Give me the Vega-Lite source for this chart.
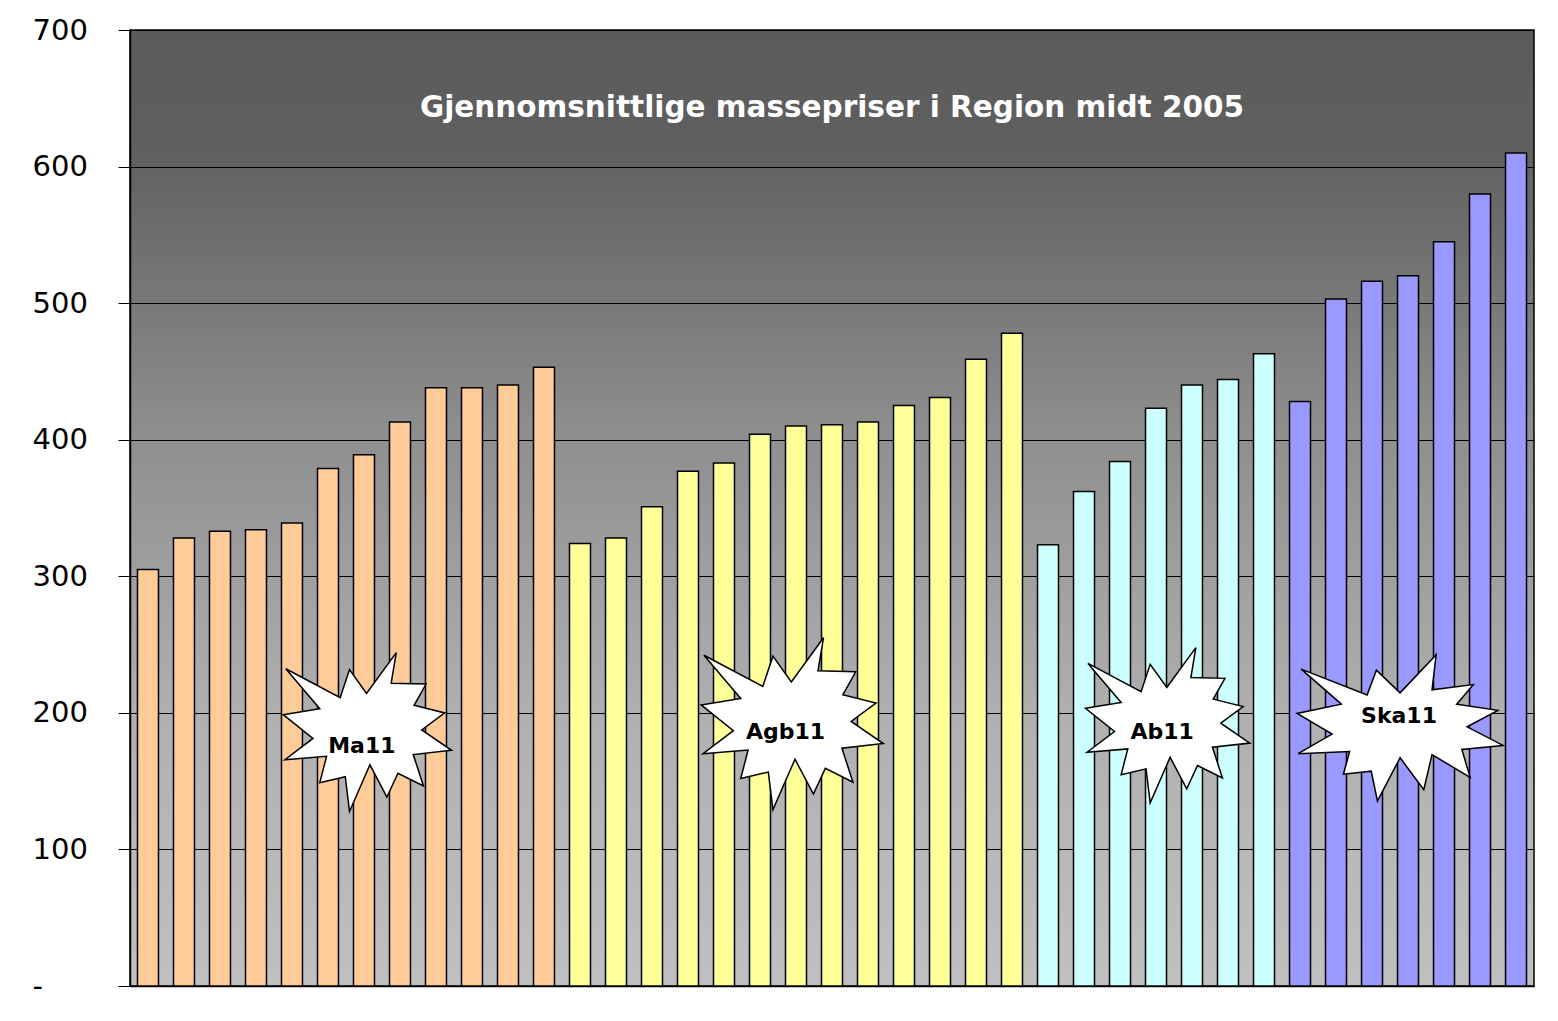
{
  "$schema": "https://vega.github.io/schema/vega-lite/v6.json",
  "width": 1404,
  "height": 956,
  "autosize": {"type": "none"},
  "padding": {"left": 130, "top": 30, "right": 24, "bottom": 35},
  "background": "white",
  "config": {
    "font": "DejaVu Sans",
    "view": {
      "stroke": "black",
      "strokeWidth": 1.5,
      "fill": {
        "gradient": "linear", "x1": 0, "y1": 0, "x2": 0, "y2": 1,
        "stops": [
          {"offset": 0, "color": "#5b5b5b"},
          {"offset": 0.12, "color": "#5f5f5f"},
          {"offset": 0.42, "color": "#8e8e8e"},
          {"offset": 0.72, "color": "#b0b0b0"},
          {"offset": 1, "color": "#c0c0c0"}
        ]
      }
    }
  },
  "datasets": {
    "bars": [
      {"i": 1, "group": "Ma11", "price": 305},
      {"i": 2, "group": "Ma11", "price": 328},
      {"i": 3, "group": "Ma11", "price": 333},
      {"i": 4, "group": "Ma11", "price": 334},
      {"i": 5, "group": "Ma11", "price": 339},
      {"i": 6, "group": "Ma11", "price": 379},
      {"i": 7, "group": "Ma11", "price": 389},
      {"i": 8, "group": "Ma11", "price": 413},
      {"i": 9, "group": "Ma11", "price": 438},
      {"i": 10, "group": "Ma11", "price": 438},
      {"i": 11, "group": "Ma11", "price": 440},
      {"i": 12, "group": "Ma11", "price": 453},
      {"i": 13, "group": "Agb11", "price": 324},
      {"i": 14, "group": "Agb11", "price": 328},
      {"i": 15, "group": "Agb11", "price": 351},
      {"i": 16, "group": "Agb11", "price": 377},
      {"i": 17, "group": "Agb11", "price": 383},
      {"i": 18, "group": "Agb11", "price": 404},
      {"i": 19, "group": "Agb11", "price": 410},
      {"i": 20, "group": "Agb11", "price": 411},
      {"i": 21, "group": "Agb11", "price": 413},
      {"i": 22, "group": "Agb11", "price": 425},
      {"i": 23, "group": "Agb11", "price": 431},
      {"i": 24, "group": "Agb11", "price": 459},
      {"i": 25, "group": "Agb11", "price": 478},
      {"i": 26, "group": "Ab11", "price": 323},
      {"i": 27, "group": "Ab11", "price": 362},
      {"i": 28, "group": "Ab11", "price": 384},
      {"i": 29, "group": "Ab11", "price": 423},
      {"i": 30, "group": "Ab11", "price": 440},
      {"i": 31, "group": "Ab11", "price": 444},
      {"i": 32, "group": "Ab11", "price": 463},
      {"i": 33, "group": "Ska11", "price": 428},
      {"i": 34, "group": "Ska11", "price": 503},
      {"i": 35, "group": "Ska11", "price": 516},
      {"i": 36, "group": "Ska11", "price": 520},
      {"i": 37, "group": "Ska11", "price": 545},
      {"i": 38, "group": "Ska11", "price": 580},
      {"i": 39, "group": "Ska11", "price": 610}
    ],
    "stars": [
      {"label": "Ma11", "sx": 6.57, "sy": 185, "tx": 6.44, "ty": 176},
      {"label": "Agb11", "sx": 18.37, "sy": 191, "tx": 18.21, "ty": 186},
      {"label": "Ab11", "sx": 28.8, "sy": 190, "tx": 28.67, "ty": 186},
      {"label": "Ska11", "sx": 35.28, "sy": 189, "tx": 35.25, "ty": 198}
    ]
  },
  "layer": [
    {
      "data": {"name": "bars"},
      "mark": {"type": "bar", "stroke": "black", "strokeWidth": 1.5},
      "encoding": {
        "x": {
          "field": "i", "type": "ordinal", "sort": null,
          "scale": {"paddingInner": 0.417, "paddingOuter": 0.208},
          "axis": {"labels": false, "ticks": false, "title": null, "domainColor": "black", "domainWidth": 1.5}
        },
        "y": {
          "field": "price", "type": "quantitative",
          "scale": {"domain": [0, 700], "nice": false},
          "axis": {
            "values": [0, 100, 200, 300, 400, 500, 600, 700],
            "title": null,
            "grid": true, "gridColor": "black", "gridWidth": 1, "gridOpacity": 1,
            "domainColor": "black", "domainWidth": 1.5,
            "tickColor": "black", "tickSize": 12, "tickWidth": 1,
            "labelFontSize": 29, "labelColor": "black", "labelFont": "DejaVu Sans",
            "labelAlign": "left", "labelPadding": 86, "labelBaseline": "middle",
            "labelExpr": "datum.value == 0 ? '\u00a0-' : datum.label"
          }
        },
        "color": {
          "field": "group", "type": "nominal",
          "scale": {"domain": ["Ma11", "Agb11", "Ab11", "Ska11"], "range": ["#ffcc99", "#ffff99", "#ccffff", "#9999ff"]},
          "legend": null
        }
      }
    },
    {
      "data": {"name": "stars"},
      "mark": {"type": "point", "filled": true, "fill": "white", "stroke": "black", "strokeWidth": 1.5, "opacity": 1, "fillOpacity": 1},
      "encoding": {
        "x": {"field": "sx", "type": "quantitative", "scale": {"domain": [0, 39], "nice": false, "zero": false}, "axis": null},
        "y": {"field": "sy", "type": "quantitative"},
        "shape": {
          "field": "label", "type": "nominal", "legend": null,
          "scale": {
            "domain": ["Ma11", "Agb11", "Ab11", "Ska11"],
            "range": [
              "M-0.95,-0.76L-0.31,-0.42L-0.2,-0.75L0,-0.47L0.35,-0.95L0.29,-0.59L0.7,-0.58L0.56,-0.33L0.92,-0.24L0.65,-0.04L1,0.2L0.55,0.25L0.67,0.62L0.37,0.47L0.24,0.75L0.04,0.37L-0.2,0.92L-0.25,0.51L-0.55,0.58L-0.47,0.27L-0.96,0.31L-0.63,0.06L-0.98,-0.22L-0.55,-0.29Z",
              "M-0.95,-0.76L-0.31,-0.42L-0.2,-0.75L0,-0.47L0.35,-0.95L0.29,-0.59L0.7,-0.58L0.56,-0.33L0.92,-0.24L0.65,-0.04L1,0.2L0.55,0.25L0.67,0.62L0.37,0.47L0.24,0.75L0.04,0.37L-0.2,0.92L-0.25,0.51L-0.55,0.58L-0.47,0.27L-0.96,0.31L-0.63,0.06L-0.98,-0.22L-0.55,-0.29Z",
              "M-0.95,-0.76L-0.31,-0.42L-0.2,-0.75L0,-0.47L0.35,-0.95L0.29,-0.59L0.7,-0.58L0.56,-0.33L0.92,-0.24L0.65,-0.04L1,0.2L0.55,0.25L0.67,0.62L0.37,0.47L0.24,0.75L0.04,0.37L-0.2,0.92L-0.25,0.51L-0.55,0.58L-0.47,0.27L-0.96,0.31L-0.63,0.06L-0.98,-0.22L-0.55,-0.29Z",
              "M-0.96,-0.57L-0.32,-0.32L-0.23,-0.56L0,-0.34L0.35,-0.71L0.31,-0.37L0.71,-0.42L0.55,-0.23L0.95,-0.17L0.65,-0.01L1,0.17L0.6,0.21L0.68,0.48L0.31,0.26L0.23,0.6L0,0.29L-0.22,0.71L-0.28,0.42L-0.55,0.45L-0.49,0.23L-0.99,0.25L-0.66,0.06L-1,-0.14L-0.57,-0.23Z"
            ]
          }
        },
        "size": {
          "field": "label", "type": "nominal", "legend": null,
          "scale": {"type": "ordinal", "domain": ["Ma11", "Agb11", "Ab11", "Ska11"], "range": [28900, 33856, 27556, 42436]}
        }
      }
    },
    {
      "data": {"name": "stars"},
      "mark": {"type": "text", "fontWeight": "bold", "fontSize": 22, "color": "black", "font": "DejaVu Sans", "align": "center", "baseline": "middle"},
      "encoding": {
        "x": {"field": "tx", "type": "quantitative", "scale": {"domain": [0, 39], "nice": false, "zero": false}, "axis": null},
        "y": {"field": "ty", "type": "quantitative"},
        "text": {"field": "label"}
      }
    },
    {
      "data": {"values": [{"t": "Gjennomsnittlige massepriser i Region midt 2005"}]},
      "mark": {"type": "text", "fontWeight": "bold", "fontSize": 29.5, "color": "white", "font": "DejaVu Sans", "align": "center", "baseline": "middle"},
      "encoding": {
        "x": {"datum": 19.5, "type": "quantitative", "scale": {"domain": [0, 39], "nice": false, "zero": false}, "axis": null},
        "y": {"datum": 643},
        "text": {"field": "t"}
      }
    }
  ],
  "resolve": {"scale": {"x": "independent", "shape": "independent", "size": "independent"}, "axis": {"x": "independent"}}
}
